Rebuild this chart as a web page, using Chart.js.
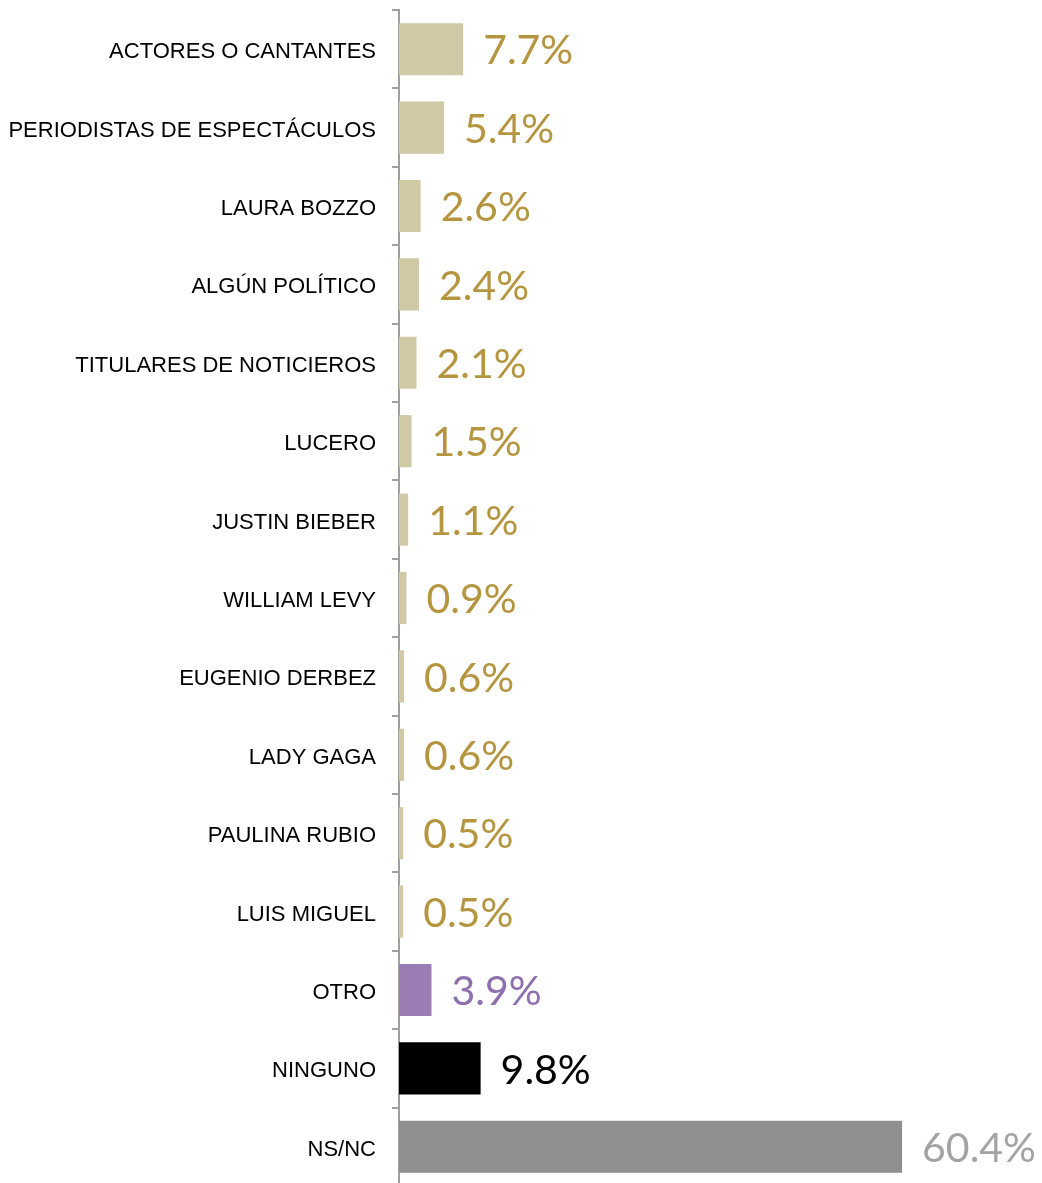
<!DOCTYPE html>
<html>
<head>
<meta charset="utf-8">
<script src="https://cdn.jsdelivr.net/npm/chart.js@4"></script>
<style>
    body { margin: 0; background: #fff; overflow: hidden; }
    #wrap { width: 1042px; height: 1186px; }
</style>
</head>
<body>
<div id="wrap"><canvas id="Wykres_1"></canvas></div>
<script>
const categories = ['ACTORES O CANTANTES', 'PERIODISTAS DE ESPECTÁCULOS', 'LAURA BOZZO', 'ALGÚN POLÍTICO',
    'TITULARES DE NOTICIEROS', 'LUCERO', 'JUSTIN BIEBER', 'WILLIAM LEVY', 'EUGENIO DERBEZ', 'LADY GAGA',
    'PAULINA RUBIO', 'LUIS MIGUEL', 'OTRO', 'NINGUNO', 'NS/NC'];
const values = [7.7, 5.4, 2.6, 2.4, 2.1, 1.5, 1.1, 0.9, 0.6, 0.6, 0.5, 0.5, 3.9, 9.8, 60.4];
const barColors = ['#cfc9a6', '#cfc9a6', '#cfc9a6', '#cfc9a6', '#cfc9a6', '#cfc9a6', '#cfc9a6', '#cfc9a6',
    '#cfc9a6', '#cfc9a6', '#cfc9a6', '#cfc9a6', '#9a7db4', '#000000', '#8f8f8f'];
const labelColors = ['#b5953f', '#b5953f', '#b5953f', '#b5953f', '#b5953f', '#b5953f', '#b5953f', '#b5953f',
    '#b5953f', '#b5953f', '#b5953f', '#b5953f', '#8e70ae', '#000000', '#a3a3a3'];

// etiquetas de valor al final de cada barra
const valueLabels = {
    id: 'valueLabels',
    afterDatasetsDraw(chart) {
        const ctx = chart.ctx;
        const meta = chart.getDatasetMeta(0);
        ctx.save();
        ctx.font = '400 41px Lato';
        ctx.textBaseline = 'middle';
        ctx.textAlign = 'left';
        meta.data.forEach(function(bar, i) {
            ctx.fillStyle = labelColors[i];
            ctx.fillText(values[i].toFixed(1) + '%', bar.x + 20, bar.y + 2);
        });
        ctx.restore();
    }
};

const ctx = document.getElementById('Wykres_1').getContext('2d');
new Chart(ctx, {
    type: 'bar',
    data: {
        labels: categories,
        datasets: [{
            data: values,
            backgroundColor: barColors,
            borderWidth: 0,
            categoryPercentage: 1,
            barPercentage: 0.665
        }]
    },
    options: {
        indexAxis: 'y',
        responsive: true,
        maintainAspectRatio: false,
        animation: false,
        layout: { padding: { top: 10, bottom: 0, left: 0, right: 0 } },
        plugins: {
            legend: { display: false },
            tooltip: { enabled: false }
        },
        scales: {
            x: {
                min: 0,
                max: 77.2,
                display: false
            },
            y: {
                afterFit: function(scale) {
                    scale.width = 399;
                    scale.paddingTop = 0;
                    scale.paddingBottom = 0;
                },
                border: { display: true, color: '#a0a0a0', width: 2 },
                grid: { display: true, drawOnChartArea: false, drawTicks: true, tickLength: 7, color: '#a0a0a0', lineWidth: 2 },
                ticks: {
                    color: '#000',
                    padding: 16,
                    labelOffset: 3,
                    font: { family: 'Liberation Sans', size: 22 }
                }
            }
        }
    },
    plugins: [valueLabels]
});
</script>
</body>
</html>
